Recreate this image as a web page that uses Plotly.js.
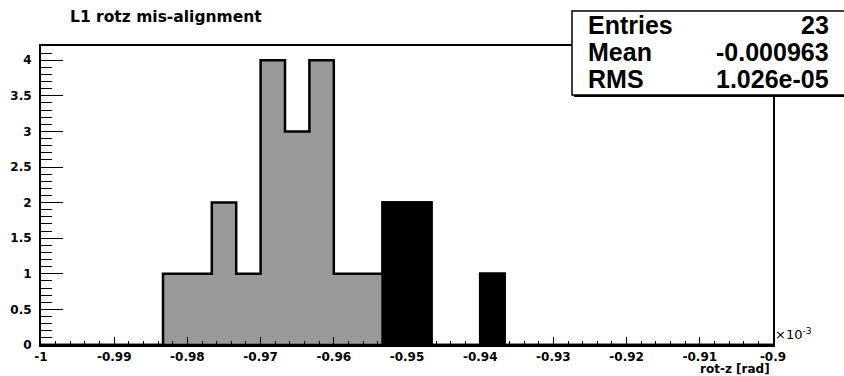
<!DOCTYPE html>
<html>
<head>
<meta charset="utf-8">
<script src="https://cdn.plot.ly/plotly-3.0.1.min.js"></script>
<style>html,body{margin:0;padding:0;background:#fff;}#chart{width:844px;height:376px;}</style>
</head>
<body>
<div id="chart"></div>
<script>
// ---- data (x in units of 1e-3 rad) ----
const binLow = -1.0;
const binHigh = -0.9;
const nBins = 30;
const allCounts   = [0,0,0,0,0,1,1,2,1,4,3,4,1,1,2,2,0,0,1,0,0,0,0,0,0,0,0,0,0,0];
const blackCounts = [0,0,0,0,0,0,0,0,0,0,0,0,0,0,2,2,0,0,1,0,0,0,0,0,0,0,0,0,0,0];
const xTickVals = [-1,-0.99,-0.98,-0.97,-0.96,-0.95,-0.94,-0.93,-0.92,-0.91,-0.9];
const xTickText = ["-1","-0.99","-0.98","-0.97","-0.96","-0.95","-0.94","-0.93","-0.92","-0.91","-0.9"];
const statLabels = ["Entries","Mean","RMS"];
const statValues = ["23","-0.000963","1.026e-05"];
const titleText = "L1 rotz mis-alignment";
const xTitle = "rot-z [rad]";

// ---- helpers ----
const W = 844, H = 376;
const M = {l: 41, r: 71, t: 46, b: 31};
const PW = W - M.l - M.r, PH = H - M.t - M.b;
const px = x => (x - M.l) / PW;
const py = y => (H - M.b - y) / PH;

function stepTrace(counts, fill) {
  const bw = (binHigh - binLow) / nBins;
  const xs = [], ys = [];
  for (let i = 0; i <= nBins; i++) {
    xs.push(binLow + i * bw);
    ys.push(counts[Math.min(i, nBins - 1)]);
  }
  return {
    type: 'scatter', mode: 'lines', x: xs, y: ys,
    line: {shape: 'hv', color: '#000', width: 2.5},
    fill: 'tozeroy', fillcolor: fill, hoverinfo: 'skip'
  };
}

const traces = [stepTrace(allCounts, '#999999'), stepTrace(blackCounts, '#000000')];

const tickFont = {family: 'DejaVu Sans', size: 12, color: '#000', weight: 700};
const labelFont = {family: 'DejaVu Sans', size: 12, color: '#000', weight: 700};
const statFont = {family: 'Liberation Sans', size: 25, color: '#000', weight: 700};

const annotations = [];
const statY = [25, 51.5, 79];
statLabels.forEach((s, i) => {
  annotations.push({xref: 'paper', yref: 'paper', x: px(586), y: py(statY[i]), xanchor: 'left', yanchor: 'middle',
    text: '<b>' + s + '</b>', showarrow: false, font: statFont});
  annotations.push({xref: 'paper', yref: 'paper', x: px(831), y: py(statY[i]), xanchor: 'right', yanchor: 'middle',
    text: '<b>' + statValues[i] + '</b>', showarrow: false, font: statFont});
});
annotations.push({xref: 'paper', yref: 'paper', x: px(771), y: py(369), xanchor: 'right', yanchor: 'middle',
  text: '<b>' + xTitle + '</b>', showarrow: false, font: labelFont, borderpad: 0});
annotations.push({xref: 'paper', yref: 'paper', x: px(773), y: py(334), xanchor: 'left', yanchor: 'middle',
  text: '×10<sup>-3</sup>', showarrow: false, font: {family: 'DejaVu Sans', size: 13, color: '#000'}});

const shapes = [
  // stats box shadow
  {type: 'rect', xref: 'paper', yref: 'paper', x0: px(574), x1: px(852), y0: py(13), y1: py(97),
   fillcolor: '#000', line: {width: 0}, layer: 'above'},
  // stats box
  {type: 'rect', xref: 'paper', yref: 'paper', x0: px(572), x1: px(850), y0: py(11), y1: py(95),
   fillcolor: '#fff', line: {color: '#000', width: 1.5}, layer: 'above'}
];

const layout = {
  width: W, height: H,
  margin: M,
  paper_bgcolor: '#fff', plot_bgcolor: '#fff',
  showlegend: false,
  hovermode: false,
  title: {text: '<b>' + titleText + '</b>', x: 70 / W, xanchor: 'left', xref: 'container',
          y: 1 - 17 / H, yanchor: 'middle', yref: 'container',
          font: {family: 'DejaVu Sans', size: 15.5, color: '#000', weight: 700}},
  xaxis: {
    range: [binLow, binHigh], showgrid: false, zeroline: false,
    showline: true, linecolor: '#000', linewidth: 2, mirror: true,
    ticks: 'inside', ticklen: 8, tickwidth: 1, tickcolor: '#000',
    tickvals: xTickVals, ticktext: xTickText, tickfont: tickFont, ticklabelstandoff: 0,
    minor: {dtick: 0.002, tick0: -1, ticks: 'inside', ticklen: 4, tickwidth: 1, tickcolor: '#000', showgrid: false}
  },
  yaxis: {
    range: [0, 4.2], showgrid: false, zeroline: false,
    showline: true, linecolor: '#000', linewidth: 2, mirror: true,
    ticks: 'inside', ticklen: 22, tickwidth: 1, tickcolor: '#000',
    tick0: 0, dtick: 0.5, tickfont: tickFont, ticklabelstandoff: 5,
    minor: {dtick: 0.1, tick0: 0, ticks: 'inside', ticklen: 11, tickwidth: 1, tickcolor: '#000', showgrid: false}
  },
  shapes: shapes,
  annotations: annotations
};

Plotly.newPlot('chart', traces, layout, {staticPlot: true, displayModeBar: false});
</script>
</body>
</html>
